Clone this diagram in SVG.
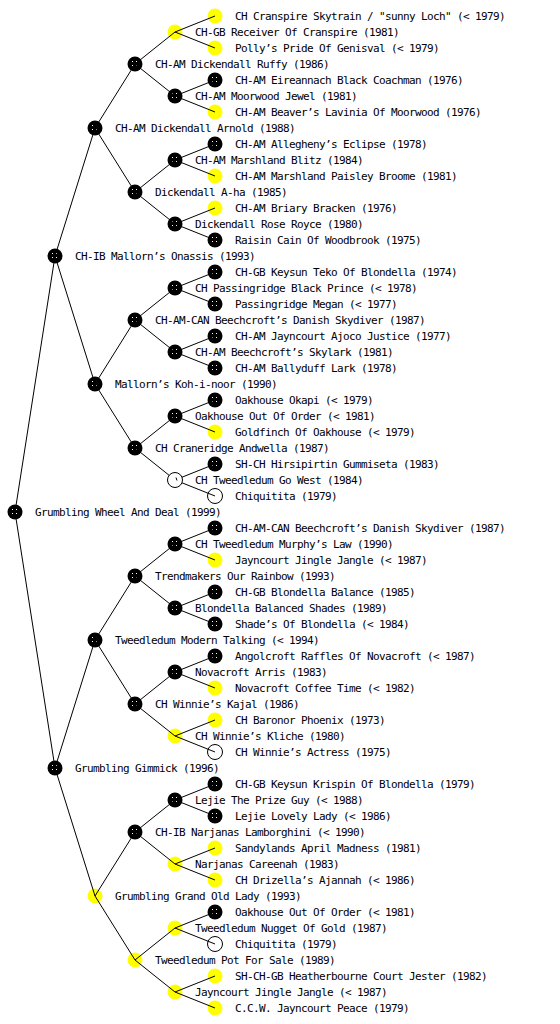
<svg xmlns="http://www.w3.org/2000/svg" width="560" height="1024" viewBox="0 0 560 1024">
<defs>
<pattern id="spk" width="4" height="4" patternUnits="userSpaceOnUse"><rect width="4" height="4" fill="#000"/><rect x="1" y="1" width="1" height="1" fill="#fff"/></pattern>
<g id="bk"><circle r="7.5" fill="#000"/><circle r="5" fill="url(#spk)"/></g>
</defs>
<style>
.y{fill:#ffff00}
.w{fill:none;stroke:#000;stroke-width:1}
.wf{fill:#fff;stroke:#000;stroke-width:1}
.c{fill:none;stroke:#000;stroke-width:1}
text{font-family:"DejaVu Sans Mono","Liberation Mono",monospace;font-size:11px;letter-spacing:-0.62px;fill:#000}
</style>
<rect width="560" height="1024" fill="#fff"/>
<g id="n1"><circle class="y" cx="215" cy="16" r="7.5"/><text x="235" y="20">CH Cranspire Skytrain / "sunny Loch" (&lt; 1979)</text></g>
<g id="n2"><circle class="y" cx="175" cy="32" r="7.5"/><text x="195" y="36">CH-GB Receiver Of Cranspire (1981)</text></g>
<g id="n3"><circle class="y" cx="215" cy="48" r="7.5"/><text x="235" y="52">Polly’s Pride Of Genisval (&lt; 1979)</text></g>
<g id="n4"><use href="#bk" x="135" y="64"/><text x="155" y="68">CH-AM Dickendall Ruffy (1986)</text></g>
<g id="n5"><use href="#bk" x="215" y="80"/><text x="235" y="84">CH-AM Eireannach Black Coachman (1976)</text></g>
<g id="n6"><use href="#bk" x="175" y="96"/><text x="195" y="100">CH-AM Moorwood Jewel (1981)</text></g>
<g id="n7"><circle class="y" cx="215" cy="112" r="7.5"/><text x="235" y="116">CH-AM Beaver’s Lavinia Of Moorwood (1976)</text></g>
<g id="n8"><use href="#bk" x="95" y="128"/><text x="115" y="132">CH-AM Dickendall Arnold (1988)</text></g>
<g id="n9"><use href="#bk" x="215" y="144"/><text x="235" y="148">CH-AM Allegheny’s Eclipse (1978)</text></g>
<g id="n10"><use href="#bk" x="175" y="160"/><text x="195" y="164">CH-AM Marshland Blitz (1984)</text></g>
<g id="n11"><circle class="y" cx="215" cy="176" r="7.5"/><text x="235" y="180">CH-AM Marshland Paisley Broome (1981)</text></g>
<g id="n12"><use href="#bk" x="135" y="192"/><text x="155" y="196">Dickendall A-ha (1985)</text></g>
<g id="n13"><circle class="y" cx="215" cy="208" r="7.5"/><text x="235" y="212">CH-AM Briary Bracken (1976)</text></g>
<g id="n14"><use href="#bk" x="175" y="224"/><text x="195" y="228">Dickendall Rose Royce (1980)</text></g>
<g id="n15"><use href="#bk" x="215" y="240"/><text x="235" y="244">Raisin Cain Of Woodbrook (1975)</text></g>
<g id="n16"><use href="#bk" x="55" y="256"/><text x="75" y="260">CH-IB Mallorn’s Onassis (1993)</text></g>
<g id="n17"><use href="#bk" x="215" y="272"/><text x="235" y="276">CH-GB Keysun Teko Of Blondella (1974)</text></g>
<g id="n18"><use href="#bk" x="175" y="288"/><text x="195" y="292">CH Passingridge Black Prince (&lt; 1978)</text></g>
<g id="n19"><use href="#bk" x="215" y="304"/><text x="235" y="308">Passingridge Megan (&lt; 1977)</text></g>
<g id="n20"><use href="#bk" x="135" y="320"/><text x="155" y="324">CH-AM-CAN Beechcroft’s Danish Skydiver (1987)</text></g>
<g id="n21"><use href="#bk" x="215" y="336"/><text x="235" y="340">CH-AM Jayncourt Ajoco Justice (1977)</text></g>
<g id="n22"><use href="#bk" x="175" y="352"/><text x="195" y="356">CH-AM Beechcroft’s Skylark (1981)</text></g>
<g id="n23"><use href="#bk" x="215" y="368"/><text x="235" y="372">CH-AM Ballyduff Lark (1978)</text></g>
<g id="n24"><use href="#bk" x="95" y="384"/><text x="115" y="388">Mallorn’s Koh-i-noor (1990)</text></g>
<g id="n25"><use href="#bk" x="215" y="400"/><text x="235" y="404">Oakhouse Okapi (&lt; 1979)</text></g>
<g id="n26"><use href="#bk" x="175" y="416"/><text x="195" y="420">Oakhouse Out Of Order (&lt; 1981)</text></g>
<g id="n27"><circle class="y" cx="215" cy="432" r="7.5"/><text x="235" y="436">Goldfinch Of Oakhouse (&lt; 1979)</text></g>
<g id="n28"><use href="#bk" x="135" y="448"/><text x="155" y="452">CH Craneridge Andwella (1987)</text></g>
<g id="n29"><use href="#bk" x="215" y="464"/><text x="235" y="468">SH-CH Hirsipirtin Gummiseta (1983)</text></g>
<g id="n31"><circle class="w" cx="215" cy="496" r="7.5"/><text x="235" y="500">Chiquitita (1979)</text></g>
<g id="n32"><use href="#bk" x="15" y="512"/><text x="35" y="516">Grumbling Wheel And Deal (1999)</text></g>
<g id="n33"><use href="#bk" x="215" y="528"/><text x="235" y="532">CH-AM-CAN Beechcroft’s Danish Skydiver (1987)</text></g>
<g id="n34"><use href="#bk" x="175" y="544"/><text x="195" y="548">CH Tweedledum Murphy’s Law (1990)</text></g>
<g id="n35"><circle class="y" cx="215" cy="560" r="7.5"/><text x="235" y="564">Jayncourt Jingle Jangle (&lt; 1987)</text></g>
<g id="n36"><use href="#bk" x="135" y="576"/><text x="155" y="580">Trendmakers Our Rainbow (1993)</text></g>
<g id="n37"><use href="#bk" x="215" y="592"/><text x="235" y="596">CH-GB Blondella Balance (1985)</text></g>
<g id="n38"><use href="#bk" x="175" y="608"/><text x="195" y="612">Blondella Balanced Shades (1989)</text></g>
<g id="n39"><use href="#bk" x="215" y="624"/><text x="235" y="628">Shade’s Of Blondella (&lt; 1984)</text></g>
<g id="n40"><use href="#bk" x="95" y="640"/><text x="115" y="644">Tweedledum Modern Talking (&lt; 1994)</text></g>
<g id="n41"><use href="#bk" x="215" y="656"/><text x="235" y="660">Angolcroft Raffles Of Novacroft (&lt; 1987)</text></g>
<g id="n42"><use href="#bk" x="175" y="672"/><text x="195" y="676">Novacroft Arris (1983)</text></g>
<g id="n43"><circle class="y" cx="215" cy="688" r="7.5"/><text x="235" y="692">Novacroft Coffee Time (&lt; 1982)</text></g>
<g id="n44"><use href="#bk" x="135" y="704"/><text x="155" y="708">CH Winnie’s Kajal (1986)</text></g>
<g id="n45"><circle class="y" cx="215" cy="720" r="7.5"/><text x="235" y="724">CH Baronor Phoenix (1973)</text></g>
<g id="n46"><circle class="y" cx="175" cy="736" r="7.5"/><text x="195" y="740">CH Winnie’s Kliche (1980)</text></g>
<g id="n47"><circle class="w" cx="215" cy="752" r="7.5"/><text x="235" y="756">CH Winnie’s Actress (1975)</text></g>
<g id="n48"><use href="#bk" x="55" y="768"/><text x="75" y="772">Grumbling Gimmick (1996)</text></g>
<g id="n49"><use href="#bk" x="215" y="784"/><text x="235" y="788">CH-GB Keysun Krispin Of Blondella (1979)</text></g>
<g id="n50"><use href="#bk" x="175" y="800"/><text x="195" y="804">Lejie The Prize Guy (&lt; 1988)</text></g>
<g id="n51"><use href="#bk" x="215" y="816"/><text x="235" y="820">Lejie Lovely Lady (&lt; 1986)</text></g>
<g id="n52"><use href="#bk" x="135" y="832"/><text x="155" y="836">CH-IB Narjanas Lamborghini (&lt; 1990)</text></g>
<g id="n53"><circle class="y" cx="215" cy="848" r="7.5"/><text x="235" y="852">Sandylands April Madness (1981)</text></g>
<g id="n54"><circle class="y" cx="175" cy="864" r="7.5"/><text x="195" y="868">Narjanas Careenah (1983)</text></g>
<g id="n55"><circle class="y" cx="215" cy="880" r="7.5"/><text x="235" y="884">CH Drizella’s Ajannah (&lt; 1986)</text></g>
<g id="n56"><circle class="y" cx="95" cy="896" r="7.5"/><text x="115" y="900">Grumbling Grand Old Lady (1993)</text></g>
<g id="n57"><use href="#bk" x="215" y="912"/><text x="235" y="916">Oakhouse Out Of Order (&lt; 1981)</text></g>
<g id="n58"><circle class="y" cx="175" cy="928" r="7.5"/><text x="195" y="932">Tweedledum Nugget Of Gold (1987)</text></g>
<g id="n59"><circle class="w" cx="215" cy="944" r="7.5"/><text x="235" y="948">Chiquitita (1979)</text></g>
<g id="n60"><circle class="y" cx="135" cy="960" r="7.5"/><text x="155" y="964">Tweedledum Pot For Sale (1989)</text></g>
<g id="n61"><circle class="y" cx="215" cy="976" r="7.5"/><text x="235" y="980">SH-CH-GB Heatherbourne Court Jester (1982)</text></g>
<g id="n62"><circle class="y" cx="175" cy="992" r="7.5"/><text x="195" y="996">Jayncourt Jingle Jangle (&lt; 1987)</text></g>
<g id="n63"><circle class="y" cx="215" cy="1008" r="7.5"/><text x="235" y="1012">C.C.W. Jayncourt Peace (1979)</text></g>
<g id="connectors" class="c">
<path d="M55,256L15,512L55,768"/>
<path d="M95,128L55,256L95,384M95,640L55,768L95,896"/>
<path d="M135,64L95,128L135,192M135,320L95,384L135,448M135,576L95,640L135,704M135,832L95,896L135,960"/>
<path d="M175,32L135,64L175,96M175,160L135,192L175,224M175,288L135,320L175,352M175,416L135,448L175,480M175,544L135,576L175,608M175,672L135,704L175,736M175,800L135,832L175,864M175,928L135,960L175,992"/>
<path d="M215,16L175,32L215,48M215,80L175,96L215,112M215,144L175,160L215,176M215,208L175,224L215,240M215,272L175,288L215,304M215,336L175,352L215,368M215,400L175,416L215,432M215,464L175,480L215,496M215,528L175,544L215,560M215,592L175,608L215,624M215,656L175,672L215,688M215,720L175,736L215,752M215,784L175,800L215,816M215,848L175,864L215,880M215,912L175,928L215,944M215,976L175,992L215,1008"/>
</g>
<g id="n30"><circle class="wf" cx="175" cy="480" r="7.5"/><path class="c" d="M176,477.5L177,480.5"/><text x="195" y="484">CH Tweedledum Go West (1984)</text></g>
</svg>
